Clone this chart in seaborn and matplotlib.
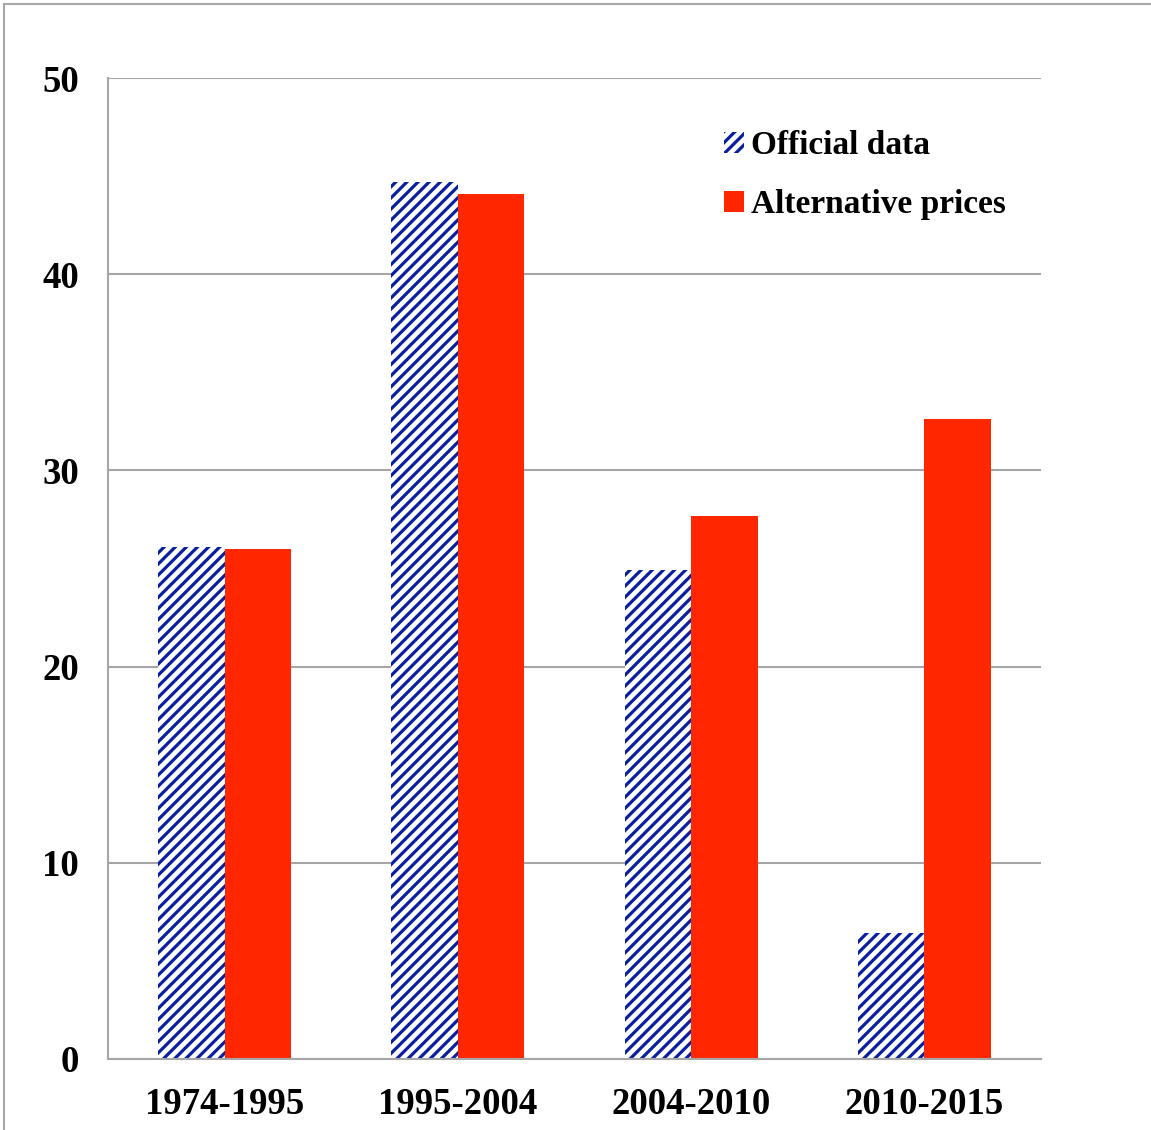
import pandas as pd
import matplotlib.pyplot as plt
import seaborn as sns
from matplotlib.lines import Line2D
from matplotlib.patches import Patch

# Data
periods = ["1974-1995", "1995-2004", "2004-2010", "2010-2015"]
official = [26.1, 44.7, 24.9, 6.4]
alternative = [26.0, 44.1, 27.7, 32.6]
series_names = ["Official data", "Alternative prices"]

df = pd.DataFrame({
    "period": periods * 2,
    "value": official + alternative,
    "series": [series_names[0]] * 4 + [series_names[1]] * 4,
})

sns.set_style("white")
plt.rcParams["font.family"] = ["Liberation Serif", "DejaVu Serif"]
plt.rcParams["font.weight"] = "bold"
plt.rcParams["text.color"] = "black"
plt.rcParams["xtick.labelcolor"] = "black"
plt.rcParams["ytick.labelcolor"] = "black"
plt.rcParams["hatch.linewidth"] = 2.3
plt.rcParams["hatch.color"] = "#0A1FA0"

blue = "#0A1FA0"
red = "#FF2600"
grey = "#A6A6A6"

fig = plt.figure(figsize=(11.51, 11.30), dpi=100)
ax = fig.add_axes([108 / 1151, 1 - 1059 / 1130, (1041 - 108) / 1151, (1059 - 78) / 1130])

sns.barplot(data=df, x="period", y="value", hue="series", ax=ax,
            palette=["white", red], width=0.57, dodge=True,
            saturation=1, legend=False)

# hatch the official-data bars
for patch in ax.patches[:4]:
    patch.set_hatch("///")
    patch.set_edgecolor(blue)
    patch.set_linewidth(0)
for patch in ax.patches[4:]:
    patch.set_linewidth(0)

ax.set_ylim(0, 50)
ax.set_xlim(-0.5, 3.5)
ax.set_yticks([0, 10, 20, 30, 40, 50])
ax.yaxis.grid(True, color=grey, linewidth=1.5)
ax.set_axisbelow(True)

for side in ["top", "right"]:
    ax.spines[side].set_visible(False)
for side in ["left", "bottom"]:
    ax.spines[side].set_color(grey)
    ax.spines[side].set_linewidth(1.5)

ax.set_xticks([-0.5, 0.5, 1.5, 2.5, 3.5], minor=True)
ax.tick_params(axis="x", which="minor", length=8, width=1.5, color=grey,
               direction="out")
ax.tick_params(axis="x", which="major", length=0, pad=20, labelsize=26.5,
               labelcolor="black")
ax.tick_params(axis="y", length=8, width=1.5, color=grey, pad=13,
               labelsize=26.5, labelcolor="black")
for lab in ax.get_xticklabels() + ax.get_yticklabels():
    lab.set_fontweight("bold")
ax.set_xlabel("")
ax.set_ylabel("")

handles = [Patch(facecolor="white", edgecolor=blue, hatch="///", linewidth=0),
           Patch(facecolor=red, edgecolor=red, linewidth=0)]
leg = ax.legend(handles, series_names, loc="upper left",
                bbox_to_anchor=((694 - 108) / 933, 1 - (100 - 78) / 981),
                frameon=False, handlelength=0.6, handleheight=0.6,
                handletextpad=0.2, labelspacing=0.85,
                prop={"size": 24, "weight": "bold"}, labelcolor="black")

# outer frame lines (left and top)
fig.add_artist(Line2D([4 / 1151, 4 / 1151], [0, 1 - 4 / 1130],
                      transform=fig.transFigure, color=grey, linewidth=1.5))
fig.add_artist(Line2D([4 / 1151, 1], [1 - 4 / 1130, 1 - 4 / 1130],
                      transform=fig.transFigure, color=grey, linewidth=1.5))

fig.savefig("out.png", dpi=100)
